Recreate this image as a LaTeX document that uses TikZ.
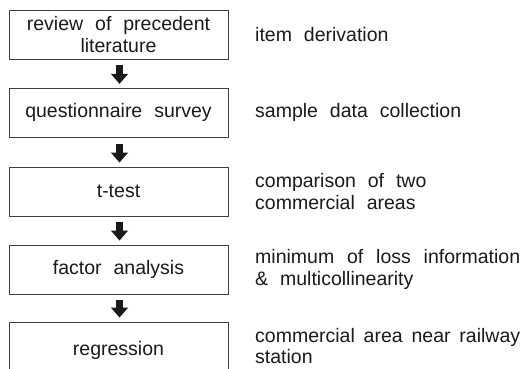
\documentclass[tikz,border=0pt]{standalone}
\usepackage{fontspec}
\setmainfont{Liberation Sans}[WordSpace=2.2]
\usetikzlibrary{arrows.meta}
\definecolor{linegray}{HTML}{404040}
\definecolor{textblack}{HTML}{1A1A1A}
\tikzset{
  stagebox/.style={draw=linegray, line width=0.9bp, minimum width=219bp, minimum height=49bp,
    inner sep=0pt, align=center, text=textblack,
    font=\fontsize{19.5bp}{21.5bp}\selectfont},
  notetext/.style={anchor=west, inner sep=0pt, align=left, text=textblack,
    font=\fontsize{19.5bp}{21.5bp}\selectfont},
  fatarrow/.style={line width=6.7bp, textblack,
    -{Triangle[width=16.7bp,length=10bp]}, shorten <=6bp, shorten >=4bp}
}
\begin{document}
\begin{tikzpicture}[x=1bp,y=-1bp]
\useasboundingbox (0,0) rectangle (525,368);
\clip (0,0) rectangle (525,368);
\node[stagebox] (b1) at (118.5,34.5) {review of precedent\\literature};
\node[stagebox] (b2) at (118.5,112.8) {questionnaire survey};
\node[stagebox] (b3) at (118.5,191.5) {t-test};
\node[stagebox] (b4) at (118.5,269.5) {factor analysis};
\node[stagebox, minimum height=56bp] (b5) at (118.5,350) {regression};

\node[notetext] (n1) at (255,34.5) {item derivation};
\node[notetext] (n2) at (255,112.8) {sample data collection};
\node[notetext] (n3) at (255,191.5) {comparison of two\\commercial areas};
\node[notetext] (n4) at (255,269.5) {\makebox[265bp][s]{minimum of loss information}\\\& multicollinearity};
\node[notetext] (n5) at (255,346) {\makebox[265bp][s]{commercial area near railway}\\station};

\draw[fatarrow] ([xshift=1bp]b1.south) -- ([xshift=1bp]b2.north);
\draw[fatarrow] ([xshift=1bp]b2.south) -- ([xshift=1bp]b3.north);
\draw[fatarrow] ([xshift=1bp]b3.south) -- ([xshift=1bp]b4.north);
\draw[fatarrow] ([xshift=1bp]b4.south) -- ([xshift=1bp]b5.north);
\end{tikzpicture}
\end{document}
